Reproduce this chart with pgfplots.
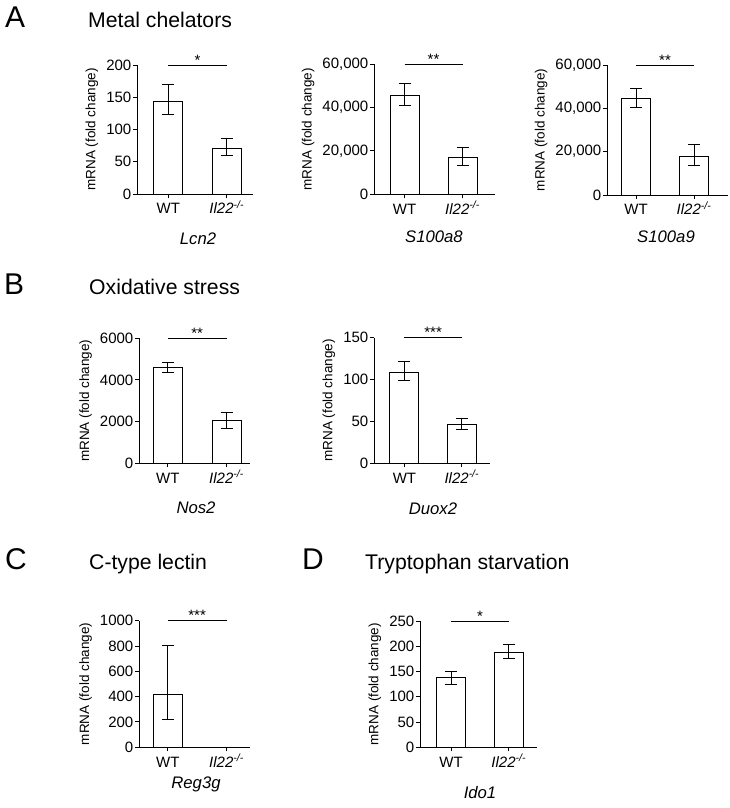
\documentclass[border=0pt]{standalone}
\usepackage{fontspec}
\setmainfont{Liberation Sans}
\usepackage{pgfplots}
\pgfplotsset{compat=1.18}

\pgfplotsset{
  panel/.style={
    scale only axis,
    axis lines=left,
    axis line style={-, line width=1pt, black},
    ymin=0,
    xtick={0,1},
    xticklabels={WT,\textit{Il22}\textsuperscript{\textit{-/-}}},
    tick align=outside,
    major tick length=4pt,
    tick style={line width=1pt, black},
    scaled y ticks=false,
    /pgf/number format/assume math mode=true,
    yticklabel style={font=\fontsize{15}{17}\selectfont, inner sep=1.5pt},
    xticklabel style={font=\fontsize{15}{17}\selectfont, text height=11pt, inner sep=2pt, yshift=-2.5pt},
    ylabel={mRNA (fold change)},
    ylabel style={font=\fontsize{13.5}{15}\selectfont, yshift=3pt},
    clip=false,
    anchor=south west,
  },
  bar/.style={ybar, bar width=29pt, fill=white, draw=black, line width=1pt,
    error bars/.cd, y dir=both, y explicit,
    error bar style={line width=1pt, black},
    error mark options={rotate=90, mark size=6pt, line width=1pt, black}},
}
\newcommand{\sig}[2]{%
  \draw[line width=1pt] (axis cs:0,#1) -- (axis cs:1,#1);
  \node[anchor=base, inner sep=0pt, font=\fontsize{15}{15}\selectfont] at (axis cs:0.5,#1) {#2};}

\begin{document}
\begin{tikzpicture}
\useasboundingbox (0,0) rectangle (729pt,-808pt);

% Titles
\node[anchor=base west, inner sep=0pt, font=\fontsize{30}{32}\selectfont] at (5pt,-28pt) {A};
\node[anchor=base west, inner sep=0pt, font=\fontsize{21.2}{24}\selectfont] at (88pt,-28pt) {Metal chelators};
\node[anchor=base west, inner sep=0pt, font=\fontsize{30}{32}\selectfont] at (4pt,-294pt) {B};
\node[anchor=base west, inner sep=0pt, font=\fontsize{21.2}{24}\selectfont] at (89pt,-294pt) {Oxidative stress};
\node[anchor=base west, inner sep=0pt, font=\fontsize{30}{32}\selectfont] at (5pt,-569pt) {C};
\node[anchor=base west, inner sep=0pt, font=\fontsize{21.2}{24}\selectfont] at (89pt,-569pt) {C-type lectin};
\node[anchor=base west, inner sep=0pt, font=\fontsize{30}{32}\selectfont] at (302pt,-569pt) {D};
\node[anchor=base west, inner sep=0pt, font=\fontsize{21.2}{24}\selectfont] at (365pt,-569pt) {Tryptophan starvation};

% Gene names
\begin{scope}[every node/.style={anchor=base, inner sep=0pt, font=\fontsize{16.7}{18}\selectfont\itshape}]
\node at (198pt,-244pt) {Lcn2};
\node at (434pt,-242pt) {S100a8};
\node at (666pt,-242pt) {S100a9};
\node at (196pt,-513pt) {Nos2};
\node at (433pt,-514pt) {Duox2};
\node at (196pt,-788pt) {Reg3g};
\node at (480pt,-798pt) {Ido1};
\end{scope}

% A1 Lcn2
\begin{axis}[panel, at={(137pt,-194pt)}, width=116pt, height=129pt,
  xmin=-0.534, xmax=1.448, ymax=200, ytick={0,50,100,150,200}]
\addplot[bar] table[x=x, y=y, y error plus=ep, y error minus=em] {
x y ep em
0 144 25 20
1 71 15 12
};
\sig{200}{*}
\end{axis}

% A2 S100a8
\begin{axis}[panel, at={(374pt,-194.3pt)}, width=121pt, height=130pt,
  xmin=-0.526, xmax=1.56, ymax=60000, ytick={0,20000,40000,60000},
  yticklabel style={/pgf/number format/1000 sep={,}}]
\addplot[bar] table[x=x, y=y, y error plus=ep, y error minus=em] {
x y ep em
0 45800 5400 4900
1 17100 4600 3600
};
\sig{60000}{**}
\end{axis}

% A3 S100a9
\begin{axis}[panel, at={(607pt,-195pt)}, width=121pt, height=130pt,
  xmin=-0.5, xmax=1.586, ymax=60000, ytick={0,20000,40000,60000},
  yticklabel style={/pgf/number format/1000 sep={,}}]
\addplot[bar] table[x=x, y=y, y error plus=ep, y error minus=em] {
x y ep em
0 44600 4650 4100
1 17700 5700 4300
};
\sig{60000}{**}
\end{axis}

% B1 Nos2
\begin{axis}[panel, at={(139pt,-463.3pt)}, width=111pt, height=125pt,
  xmin=-0.49, xmax=1.4, ymax=6000, ytick={0,2000,4000,6000},
  yticklabel style={/pgf/number format/1000 sep={}}]
\addplot[bar] table[x=x, y=y, y error plus=ep, y error minus=em] {
x y ep em
0 4590 240 220
1 2045 385 365
};
\sig{6000}{**}
\end{axis}

% B2 Duox2
\begin{axis}[panel, at={(374pt,-463.3pt)}, width=116pt, height=125.6pt,
  xmin=-0.53, xmax=1.49, ymax=150, ytick={0,50,100,150}]
\addplot[bar] table[x=x, y=y, y error plus=ep, y error minus=em] {
x y ep em
0 108.7 12.6 10.4
1 46.9 7.2 6.3
};
\sig{150}{***}
\end{axis}

% C Reg3g
\begin{axis}[panel, at={(139pt,-747.3pt)}, width=111pt, height=126.6pt,
  xmin=-0.49, xmax=1.4, ymax=1000, ytick={0,200,400,600,800,1000},
  yticklabel style={/pgf/number format/1000 sep={}}]
\addplot[bar] table[x=x, y=y, y error plus=ep, y error minus=em] {
x y ep em
0 421 387 200
1 0.5 0 0
};
\sig{1000}{***}
\end{axis}

% D Ido1
\begin{axis}[panel, at={(420pt,-747.3pt)}, width=117pt, height=126.3pt,
  xmin=-0.54, xmax=1.49, ymax=250, ytick={0,50,100,150,200,250}]
\addplot[bar] table[x=x, y=y, y error plus=ep, y error minus=em] {
x y ep em
0 137.8 11.8 13.1
1 188 16 13
};
\sig{250}{*}
\end{axis}
\end{tikzpicture}
\end{document}
